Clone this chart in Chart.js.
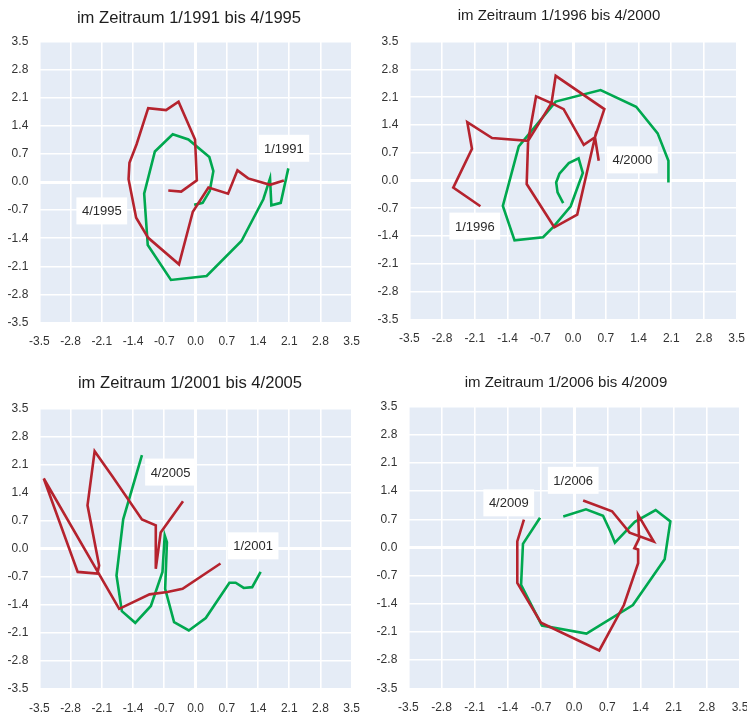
<!DOCTYPE html>
<html>
<head>
<meta charset="utf-8">
<script src="https://cdn.jsdelivr.net/npm/chart.js@4.4.1/dist/chart.umd.min.js"></script>
<style>
  html, body { margin: 0; padding: 0; background: #fff; }
  #wrap { position: relative; width: 747px; height: 715px; }
  canvas { position: absolute; }
</style>
</head>
<body>
<div id="wrap">
  <canvas id="c1" width="370" height="357" style="left:0;top:0"></canvas>
  <canvas id="c2" width="377" height="357" style="left:370px;top:0"></canvas>
  <canvas id="c3" width="370" height="358" style="left:0;top:357px"></canvas>
  <canvas id="c4" width="377" height="358" style="left:370px;top:357px"></canvas>
</div>
<script>
// tick values, same on both axes
const tickValues = [-3.5, -2.8, -2.1, -1.4, -0.7, 0, 0.7, 1.4, 2.1, 2.8, 3.5];

const titles = [
  "im Zeitraum 1/1991 bis 4/1995",
  "im Zeitraum 1/1996 bis 4/2000",
  "im Zeitraum 1/2001 bis 4/2005",
  "im Zeitraum 1/2006 bis 4/2009"
];

// [x, y] per quarter
const green1991 = [[2.08,0.34],[1.91,-0.52],[1.70,-0.58],[1.67,0.09],[1.52,-0.43],[1.03,-1.47],[0.25,-2.34],[-0.55,-2.44],[-1.07,-1.57],[-1.15,-0.29],[-0.91,0.76],[-0.51,1.19],[-0.16,1.06],[0.31,0.62],[0.40,0.27],[0.32,-0.22],[0.16,-0.52],[-0.03,-0.57]];
const red1991 = [[1.98,0.04],[1.67,-0.07],[1.18,0.09],[0.94,0.29],[0.73,-0.29],[0.29,-0.14],[-0.06,-0.74],[-0.37,-2.05],[-1.06,-1.39],[-1.33,-0.89],[-1.50,0.07],[-1.48,0.48],[-1.32,0.94],[-1.06,1.84],[-0.66,1.79],[-0.38,2.00],[-0.01,1.06],[0.03,0.04],[-0.32,-0.24],[-0.61,-0.21]];

const green1996 = [[-0.21,-0.57],[-0.33,-0.30],[-0.36,-0.05],[-0.29,0.17],[-0.09,0.44],[0.12,0.56],[0.21,0.19],[-0.05,-0.65],[-0.42,-1.17],[-0.64,-1.43],[-1.25,-1.51],[-1.50,-0.64],[-1.16,0.86],[-0.37,1.99],[0.59,2.28],[1.35,1.86],[1.81,1.19],[2.04,0.50],[2.04,-0.05]];
const red1996 = [[-1.98,-0.65],[-2.56,-0.18],[-2.16,0.80],[-2.26,1.47],[-1.73,1.07],[-0.96,1.00],[-0.79,2.12],[-0.46,1.95],[-0.37,2.64],[0.67,1.80],[0.47,1.09],[0.23,0.90],[-0.20,1.80],[-0.46,1.95],[-0.96,1.00],[-0.99,-0.09],[-0.40,-1.18],[0.09,-0.86],[0.47,1.09],[0.55,0.50]];

const green2001 = [[1.46,-0.58],[1.27,-0.96],[1.08,-0.98],[0.90,-0.85],[0.76,-0.85],[0.23,-1.73],[-0.15,-2.04],[-0.48,-1.83],[-0.68,-1.00],[-0.64,0.16],[-0.69,0.33],[-0.74,-0.58],[-1.00,-1.43],[-1.35,-1.85],[-1.65,-1.56],[-1.77,-0.67],[-1.62,0.73],[-1.20,2.33]];
const red2001 = [[0.56,-0.37],[-0.29,-1.00],[-0.63,-1.08],[-1.03,-1.14],[-1.71,-1.50],[-3.40,1.75],[-2.64,-0.58],[-2.20,-0.62],[-2.16,-0.42],[-2.42,1.08],[-2.26,2.43],[-1.86,1.80],[-1.20,0.73],[-0.89,0.58],[-0.89,-0.50],[-0.78,0.40],[-0.28,1.18]];

const green2006 = [[-0.23,0.77],[0.25,0.95],[0.61,0.79],[0.76,0.41],[0.86,0.12],[1.28,0.64],[1.72,0.93],[2.03,0.65],[1.91,-0.29],[1.24,-1.43],[0.26,-2.14],[-0.68,-1.94],[-1.12,-0.93],[-1.08,0.09],[-0.72,0.74]];
const red2006 = [[0.19,1.17],[0.80,0.90],[1.17,0.37],[1.68,0.15],[1.35,0.81],[1.37,0.22],[1.27,-0.02],[1.35,-0.05],[1.35,-0.39],[1.05,-1.43],[0.53,-2.56],[-0.70,-1.87],[-1.20,-0.88],[-1.20,0.15],[-1.06,0.69]];

// text tags: [label, x, y]
const tags1991 = [["1/1991", 1.98, 0.84], ["4/1995", -2.10, -0.72]];
const tags1996 = [["4/2000", 1.27, 0.52], ["1/1996", -2.10, -1.15]];
const tags2001 = [["4/2005", -0.56, 1.91], ["1/2001", 1.29, 0.07]];
const tags2006 = [["1/2006", -0.02, 1.67], ["4/2009", -1.38, 1.11]];

const FONT = "'Liberation Sans', Arial, sans-serif";
Chart.defaults.font.family = FONT;

const GREEN = "#00a84f";
const RED = "#b5232e";

// plot background
const bgPlugin = {
  id: "plotBg",
  beforeDraw(chart) {
    const a = chart.chartArea, ctx = chart.ctx;
    ctx.save();
    ctx.fillStyle = "#e5ecf6";
    ctx.fillRect(a.left, a.top, a.right - a.left, a.bottom - a.top);
    ctx.restore();
  }
};

// white label boxes
const tagPlugin = {
  id: "tags",
  afterDatasetsDraw(chart, args, opts) {
    const ctx = chart.ctx, xs = chart.scales.x, ys = chart.scales.y;
    ctx.save();
    ctx.font = "13px " + FONT;
    ctx.textAlign = "center";
    ctx.textBaseline = "middle";
    opts.items.forEach(([text, x, y]) => {
      const px = xs.getPixelForValue(x), py = ys.getPixelForValue(y);
      const w = ctx.measureText(text).width + 11, h = 27;
      ctx.fillStyle = "#fff";
      ctx.fillRect(px - w / 2, py - h / 2, w, h);
      ctx.fillStyle = "#2a2a2a";
      ctx.fillText(text, px, py + 1);
    });
    ctx.restore();
  }
};

// panel title
const titlePlugin = {
  id: "panelTitle",
  afterDraw(chart, args, opts) {
    const ctx = chart.ctx;
    ctx.save();
    ctx.font = opts.size + "px " + FONT;
    ctx.fillStyle = "#1e1e1e";
    ctx.textAlign = "center";
    ctx.textBaseline = "middle";
    ctx.fillText(opts.text, opts.x, opts.y);
    ctx.restore();
  }
};

function axis(isX, size) {
  return {
    type: "linear",
    min: -3.5,
    max: 3.5,
    border: { display: false },
    grid: {
      color: "#ffffff",
      drawTicks: false,
      lineWidth: c => (c.tick && Math.abs(c.tick.value) < 1e-9) ? 3 : 1.6
    },
    ticks: {
      autoSkip: false,
      maxRotation: 0,
      padding: isX ? 12 : 11,
      color: "#333",
      font: { size: 12 },
      callback: v => (Math.abs(v) < 1e-9 ? 0 : v).toFixed(1)
    },
    afterBuildTicks: s => { s.ticks = tickValues.map(v => ({ value: v })); },
    afterFit: s => {
      if (isX) s.height = size; else s.width = size;
      s.paddingLeft = s.paddingRight = s.paddingTop = s.paddingBottom = 0;
    }
  };
}

function makePanel(id, title, green, red, tags, lay) {
  new Chart(document.getElementById(id), {
    type: "scatter",
    data: {
      datasets: [
        {
          label: "rot",
          data: red.map(p => ({ x: p[0], y: p[1] })),
          showLine: true,
          borderColor: RED,
          borderWidth: 2.6,
          pointRadius: 0,
          tension: 0
        },
        {
          label: "grün",
          data: green.map(p => ({ x: p[0], y: p[1] })),
          showLine: true,
          borderColor: GREEN,
          borderWidth: 2.6,
          pointRadius: 0,
          tension: 0
        }
      ]
    },
    options: {
      responsive: false,
      devicePixelRatio: 1,
      animation: false,
      layout: { padding: lay.pad },
      plugins: {
        legend: { display: false },
        tooltip: { enabled: false },
        tags: { items: tags },
        panelTitle: { text: title, x: lay.tx, y: lay.ty, size: lay.ts }
      },
      scales: {
        x: axis(true, 25),
        y: axis(false, lay.yw)
      }
    },
    plugins: [bgPlugin, tagPlugin, titlePlugin]
  });
}

makePanel("c1", titles[0], green1991, red1991, tags1991,
  { pad: { left: 0, top: 41.5, right: 18.3, bottom: 9.5 }, yw: 39.3, tx: 189, ty: 18.5, ts: 16.6 });
makePanel("c2", titles[1], green1996, red1996, tags1996,
  { pad: { left: 0, top: 41.7, right: 10.3, bottom: 12.7 }, yw: 39.3, tx: 189, ty: 16, ts: 15 });
makePanel("c3", titles[2], green2001, red2001, tags2001,
  { pad: { left: 0, top: 51.3, right: 18.3, bottom: 1 }, yw: 39.3, tx: 190, ty: 26.5, ts: 16.6 });
makePanel("c4", titles[3], green2006, red2006, tags2006,
  { pad: { left: 0, top: 49.7, right: 7, bottom: 1.7 }, yw: 38.3, tx: 196, ty: 26, ts: 15 });
</script>
</body>
</html>
